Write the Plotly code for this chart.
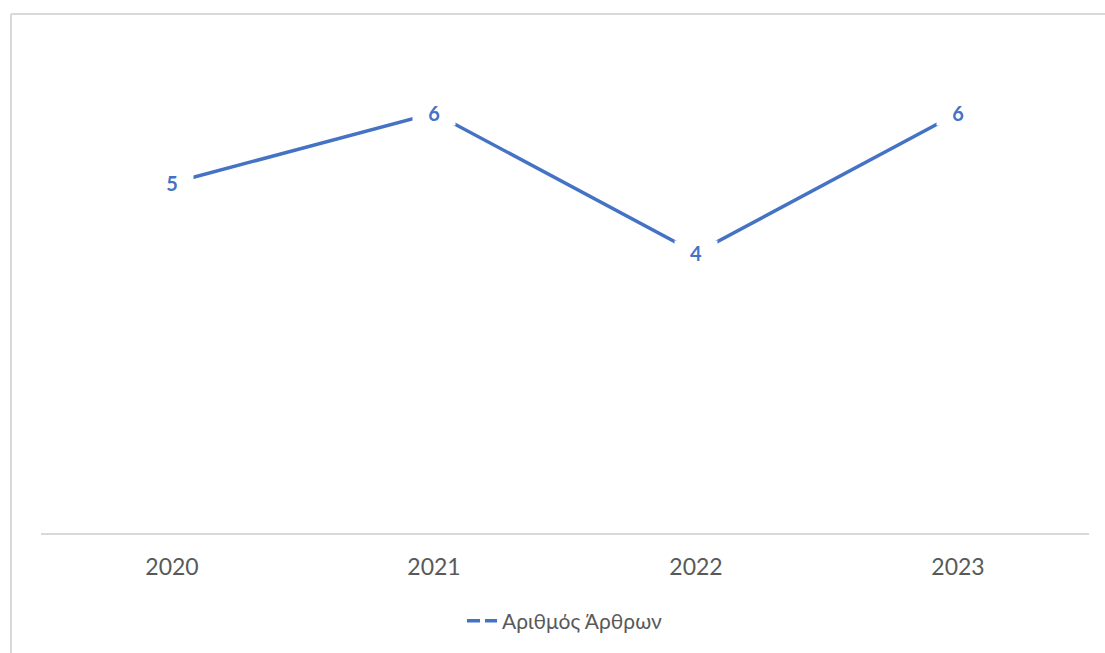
import plotly.graph_objects as go

# Series data
years = ["2020", "2021", "2022", "2023"]
articles = [5, 6, 4, 6]
series_name = "Αριθμός Άρθρων"

LINE_COLOR = "#4472C4"
TEXT_COLOR = "#595959"
FRAME_COLOR = "#D9D9D9"
FONT = "Lato, Carlito, Calibri, sans-serif"

fig = go.Figure()

# Main series line (legend entry drawn separately with a broken key)
fig.add_trace(go.Scatter(
    x=years, y=articles, mode="lines",
    line=dict(color=LINE_COLOR, width=3.5),
    showlegend=False, hoverinfo="skip",
))

# Legend key for the series
fig.add_trace(go.Scatter(
    x=[years[0]], y=[None], mode="lines", name=series_name,
    line=dict(color=LINE_COLOR, width=3.5, dash="13px,5px"),
    hoverinfo="skip",
))

# Centered value labels with a white box that cuts the line around them
# (x given as the category index on the category axis)
for i, v in enumerate(articles):
    fig.add_annotation(
        x=i, y=v, xref="x", yref="y", text=str(v), showarrow=False,
        font=dict(family=FONT, size=20, color=LINE_COLOR, weight=700),
        bgcolor="white", width=42, height=24, borderpad=0,
        xanchor="center", yanchor="middle",
    )

W, H = 1105, 653
ml, mr, mt, mb = 41, 16, 43, 120
pw, ph = W - ml - mr, H - mt - mb

# Chart-area frame (left and top edges visible)
fx = (11 - ml) / pw
fy = (H - mb - 14) / ph
fig.add_shape(type="line", xref="paper", yref="paper", x0=fx, x1=fx, y0=fy, y1=-0.5,
              line=dict(color=FRAME_COLOR, width=2))
fig.add_shape(type="line", xref="paper", yref="paper", x0=fx, x1=1.2, y0=fy, y1=fy,
              line=dict(color=FRAME_COLOR, width=2))

fig.update_layout(
    width=W, height=H,
    margin=dict(l=ml, r=mr, t=mt, b=mb, pad=0),
    paper_bgcolor="white", plot_bgcolor="white",
    font=dict(family=FONT, color=TEXT_COLOR),
    xaxis=dict(
        type="category", categoryorder="array", categoryarray=years,
        range=[-0.5, len(years) - 0.5],
        showgrid=False, zeroline=False,
        showline=True, linecolor=FRAME_COLOR, linewidth=2,
        ticks="", tickfont=dict(size=23, color=TEXT_COLOR),
        ticklabelstandoff=12,
    ),
    yaxis=dict(range=[0, 7], visible=False, showgrid=False, zeroline=False),
    legend=dict(
        orientation="h", x=0.5, xanchor="center",
        y=(H - mb - 621) / ph, yanchor="middle",
        font=dict(size=21, color=TEXT_COLOR),
    ),
)

fig.write_html("out.html")
